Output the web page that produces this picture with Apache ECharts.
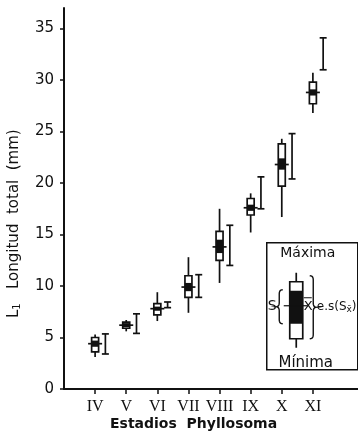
<!DOCTYPE html>
<html>
<head>
<meta charset="utf-8">
<script src="https://cdn.jsdelivr.net/npm/echarts@6/dist/echarts.min.js"></script>
<style>
  html, body { margin: 0; padding: 0; background: #fff; }
  #chart { width: 358px; height: 435px; }
</style>
</head>
<body>
<div id="chart"></div>
<script>
// stage labels (x ticks) and y tick values
const stages = ['IV', 'V', 'VI', 'VII', 'VIII', 'IX', 'X', 'XI'];
const yTicks = [0, 5, 10, 15, 20, 25, 30, 35];

// box plot per stage (mm)
const maxVals = [5.3, 6.7, 9.4, 12.8, 17.5, 19.0, 24.3, 30.7];
const minVals = [3.1, 5.6, 6.6, 7.4, 10.3, 15.2, 16.7, 26.8];
const sdHigh  = [5.0, 6.5, 8.3, 11.0, 15.3, 18.5, 23.8, 29.8];
const sdLow   = [3.6, 5.9, 7.2, 8.9, 12.5, 16.9, 19.7, 27.7];
const seHigh  = [4.7, 6.4, 8.0, 10.3, 14.5, 17.9, 22.4, 29.1];
const seLow   = [4.1, 6.0, 7.6, 9.5, 13.2, 17.3, 21.3, 28.5];
const means   = [4.4, 6.2, 7.8, 9.9, 13.8, 17.6, 21.8, 28.8];

// interval bars drawn beside each stage
const barHigh = [5.35, 7.3, 8.45, 11.1, 15.9, 20.6, 24.8, 34.1];
const barLow  = [3.4, 5.4, 7.9, 8.9, 12.0, 17.5, 20.4, 31.0];

const firstStage = 4;   // stage IV sits at x = 4
const barShift = 0.33;  // bars sit a bit right of the stage

const boxData = stages.map((s, i) => [firstStage + i, minVals[i], maxVals[i], sdLow[i], sdHigh[i], seLow[i], seHigh[i], means[i]]);
const barData = stages.map((s, i) => [firstStage + i + barShift, barLow[i], barHigh[i]]);

const chart = echarts.init(document.getElementById('chart'));
const ink = '#111';
const lw = 1.7;

function renderBox(params, api) {
    const x = api.value(0);
    const top = api.coord([x, api.value(2)]);
    const bot = api.coord([x, api.value(1)]);
    const sdT = api.coord([x, api.value(4)]);
    const sdB = api.coord([x, api.value(3)]);
    const seT = api.coord([x, api.value(6)]);
    const seB = api.coord([x, api.value(5)]);
    const m = api.coord([x, api.value(7)]);
    const hw = 3.5;
    return {
        type: 'group',
        children: [
            { type: 'line', shape: { x1: top[0], y1: top[1], x2: bot[0], y2: bot[1] }, style: { stroke: ink, lineWidth: lw } },
            { type: 'rect', shape: { x: sdT[0] - hw, y: sdT[1], width: hw * 2, height: sdB[1] - sdT[1] }, style: { fill: '#fff', stroke: ink, lineWidth: lw } },
            { type: 'rect', shape: { x: seT[0] - hw, y: seT[1], width: hw * 2, height: seB[1] - seT[1] }, style: { fill: ink } },
            { type: 'line', shape: { x1: m[0] - 7, y1: m[1], x2: m[0] + 7, y2: m[1] }, style: { stroke: ink, lineWidth: lw } }
        ]
    };
}

function renderBar(params, api) {
    const x = api.value(0);
    const lo = api.coord([x, api.value(1)]);
    const hi = api.coord([x, api.value(2)]);
    const cw = 3.5;
    return {
        type: 'group',
        children: [
            { type: 'line', shape: { x1: hi[0], y1: hi[1], x2: lo[0], y2: lo[1] }, style: { stroke: ink, lineWidth: lw } },
            { type: 'line', shape: { x1: hi[0] - cw, y1: hi[1], x2: hi[0] + cw, y2: hi[1] }, style: { stroke: ink, lineWidth: lw } },
            { type: 'line', shape: { x1: lo[0] - cw, y1: lo[1], x2: lo[0] + cw, y2: lo[1] }, style: { stroke: ink, lineWidth: lw } }
        ]
    };
}

// curly brace as a polyline; dir -1 points left ('{'), +1 points right ('}')
function brace(x, y1, y2, w, dir) {
    const ym = (y1 + y2) / 2;
    const r = 4;
    const xo = dir < 0 ? x + w : x;
    const xmid = x + w / 2;
    const xp = dir < 0 ? x : x + w;
    const pts = [];
    const quad = (p0, p1, p2) => {
        for (let t = 0; t <= 1.0001; t += 0.2) {
            const a = (1 - t) * (1 - t), b = 2 * (1 - t) * t, c = t * t;
            pts.push([a * p0[0] + b * p1[0] + c * p2[0], a * p0[1] + b * p1[1] + c * p2[1]]);
        }
    };
    quad([xo, y1], [xmid, y1], [xmid, y1 + r]);
    quad([xmid, ym - r], [xmid, ym], [xp, ym]);
    quad([xp, ym], [xmid, ym], [xmid, ym + r]);
    quad([xmid, y2 - r], [xmid, y2], [xo, y2]);
    return pts;
}

const sans = 'DejaVu Sans';
const option = {
    animation: false,
    backgroundColor: '#fff',
    grid: { left: 64, right: 0, top: 8, bottom: 46, containLabel: false, outerBoundsMode: 'none' },
    xAxis: {
        type: 'value',
        min: 3,
        max: 12.45,
        interval: 1,
        splitLine: { show: false },
        axisLine: { lineStyle: { color: ink, width: 2 } },
        axisTick: { length: 5, lineStyle: { color: ink, width: 1.5 }, customValues: stages.map((s, i) => firstStage + i) },
        axisLabel: {
            customValues: stages.map((s, i) => firstStage + i),
            formatter: v => stages[Math.round(v) - firstStage] || '',
            color: ink,
            fontFamily: 'Liberation Serif',
            fontSize: 16,
            margin: 10
        }
    },
    yAxis: {
        type: 'value',
        min: 0,
        max: 37,
        interval: 5,
        splitLine: { show: false },
        axisLine: { lineStyle: { color: ink, width: 2 } },
        axisTick: { length: 4, lineStyle: { color: ink, width: 1.5 }, customValues: yTicks },
        axisLabel: {
            customValues: yTicks,
            color: ink,
            fontFamily: sans,
            fontSize: 15,
            margin: 10
        }
    },
    series: [
        {
            type: 'custom',
            renderItem: renderBox,
            data: boxData,
            encode: { x: 0, y: [1, 2] },
            z: 3
        },
        {
            type: 'custom',
            renderItem: renderBar,
            data: barData,
            encode: { x: 0, y: [1, 2] },
            z: 3
        }
    ],
    graphic: [
        {
            type: 'text',
            left: 110, top: 417,
            style: { text: 'Estadios  Phyllosoma', font: 'bold 14px "DejaVu Sans"', fill: ink }
        },
        {
            type: 'text',
            x: 6, y: 318,
            rotation: Math.PI / 2,
            style: {
                text: '{n|L}{s|1}   Longitud  total  (mm)',
                fill: ink,
                rich: {
                    n: { fontFamily: sans, fontSize: 15, fill: ink },
                    s: { fontFamily: sans, fontSize: 10, fill: ink, verticalAlign: 'bottom', padding: [6, 0, 0, 0] }
                },
                font: '15px "DejaVu Sans"',
                verticalAlign: 'top'
            }
        },
        {
            type: 'group',
            left: 266, top: 242,
            children: [
                { type: 'rect', shape: { x: 0, y: 0, width: 91, height: 127 }, style: { fill: '#fff', stroke: ink, lineWidth: 1.5 } },
                { type: 'text', x: 41, y: 11, style: { text: 'Máxima', font: '500 14px "DejaVu Sans"', fill: ink, align: 'center', verticalAlign: 'middle' } },
                { type: 'text', x: 39, y: 120, style: { text: 'Mínima', font: '500 15px "DejaVu Sans"', fill: ink, align: 'center', verticalAlign: 'middle' } },
                { type: 'line', shape: { x1: 29.5, y1: 30, x2: 29.5, y2: 105 }, style: { stroke: ink, lineWidth: lw } },
                { type: 'rect', shape: { x: 23, y: 39, width: 13, height: 57 }, style: { fill: '#fff', stroke: ink, lineWidth: 1.7 } },
                { type: 'rect', shape: { x: 23, y: 48, width: 13, height: 33 }, style: { fill: ink } },
                { type: 'line', shape: { x1: 17, y1: 63, x2: 41, y2: 63 }, style: { stroke: ink, lineWidth: 1.2 } },
                { type: 'polyline', shape: { points: brace(9, 47, 81, 7, -1) }, style: { stroke: ink, fill: null, lineWidth: 1.4 } },
                { type: 'polyline', shape: { points: brace(43, 33, 96, 7, 1) }, style: { stroke: ink, fill: null, lineWidth: 1.4 } },
                { type: 'text', x: 1, y: 64, style: { text: 'S', font: '14px "DejaVu Sans"', fill: ink, verticalAlign: 'middle' } },
                { type: 'text', x: 37, y: 64, style: { text: 'X', font: '13px "DejaVu Sans"', fill: ink, verticalAlign: 'middle' } },
                { type: 'line', shape: { x1: 37, y1: 55, x2: 45, y2: 55 }, style: { stroke: ink, lineWidth: 1 } },
                {
                    type: 'text', x: 50, y: 64,
                    style: {
                        text: '{a|e.s(S}{b|x̄}{a|)}',
                        verticalAlign: 'middle',
                        fill: ink,
                        rich: {
                            a: { fontFamily: sans, fontSize: 12, fill: ink },
                            b: { fontFamily: sans, fontSize: 9, fill: ink, padding: [5, 0, 0, 0] }
                        }
                    }
                }
            ]
        }
    ]
};

chart.setOption(option);
</script>
</body>
</html>
